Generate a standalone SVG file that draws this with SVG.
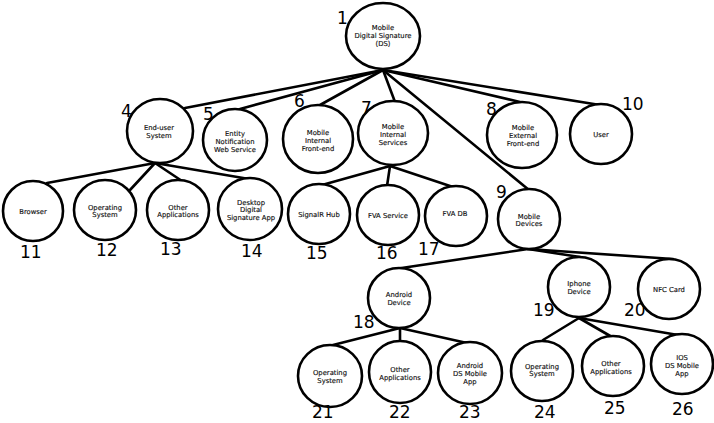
<svg xmlns="http://www.w3.org/2000/svg" width="714" height="423" viewBox="0 0 714 423">
<style>
.n ellipse{fill:#fff;stroke:#000;stroke-width:2.6}
.n text{font-family:"DejaVu Sans",sans-serif;font-size:6.8px;text-anchor:middle;fill:#111;stroke:#111;stroke-width:0.15}
.num{font-family:"DejaVu Sans",sans-serif;font-size:17px;fill:#000}
#connectors line{stroke:#000;stroke-width:2.6;stroke-linecap:round}
</style>
<rect width="714" height="423" fill="#fff"/>
<g id="connectors">
<line x1="383" y1="70" x2="185" y2="108"/>
<line x1="383" y1="70" x2="240" y2="109"/>
<line x1="383" y1="70" x2="320" y2="105"/>
<line x1="383" y1="70" x2="395" y2="102"/>
<line x1="383" y1="70" x2="529" y2="190"/>
<line x1="383" y1="70" x2="520" y2="102"/>
<line x1="383" y1="70" x2="600" y2="105"/>
<line x1="155" y1="163" x2="47" y2="183"/>
<line x1="155" y1="163" x2="130" y2="190"/>
<line x1="155" y1="163" x2="182" y2="181"/>
<line x1="155" y1="163" x2="255" y2="180"/>
<line x1="390" y1="166" x2="322" y2="185"/>
<line x1="390" y1="166" x2="387" y2="186"/>
<line x1="390" y1="166" x2="453" y2="187"/>
<line x1="528" y1="249" x2="395" y2="269"/>
<line x1="528" y1="249" x2="580" y2="257"/>
<line x1="528" y1="249" x2="673" y2="259"/>
<line x1="400" y1="328" x2="333" y2="345"/>
<line x1="400" y1="328" x2="400" y2="342"/>
<line x1="400" y1="328" x2="467" y2="343"/>
<line x1="579" y1="318" x2="543" y2="340"/>
<line x1="579" y1="318" x2="612" y2="337"/>
<line x1="579" y1="318" x2="678" y2="335"/>
</g>
<g id="n1" class="n"><ellipse cx="383" cy="36" rx="37" ry="33"/><text x="383" y="29.5">Mobile</text><text x="383" y="37.5">Digital Signature</text><text x="383" y="45.5">(DS)</text></g>
<g id="n4" class="n"><ellipse cx="160" cy="131" rx="33" ry="32"/><text x="159" y="129.5">End-user</text><text x="159" y="137.5">System</text></g>
<g id="n5" class="n"><ellipse cx="235" cy="140" rx="32" ry="31"/><text x="235" y="135.5">Entity</text><text x="235" y="143.5">Notification</text><text x="235" y="151.5">Web Service</text></g>
<g id="n6" class="n"><ellipse cx="318" cy="139" rx="35" ry="34"/><text x="318" y="134.5">Mobile</text><text x="318" y="142.5">Internal</text><text x="318" y="150.5">Front-end</text></g>
<g id="n7" class="n"><ellipse cx="393" cy="133" rx="35" ry="32"/><text x="393" y="128.5">Mobile</text><text x="393" y="136.5">Internal</text><text x="393" y="144.5">Services</text></g>
<g id="n8" class="n"><ellipse cx="522" cy="135" rx="35" ry="33"/><text x="523" y="129.5">Mobile</text><text x="523" y="137.5">External</text><text x="523" y="145.5">Front-end</text></g>
<g id="n10" class="n"><ellipse cx="601" cy="134" rx="31" ry="30"/><text x="601" y="136.5">User</text></g>
<g id="n11" class="n"><ellipse cx="33" cy="211" rx="30" ry="30"/><text x="33" y="213.5">Browser</text></g>
<g id="n12" class="n"><ellipse cx="105" cy="210" rx="31" ry="30"/><text x="105" y="209.5">Operating</text><text x="105" y="217">System</text></g>
<g id="n13" class="n"><ellipse cx="178" cy="210" rx="31" ry="30"/><text x="178" y="209.5">Other</text><text x="178" y="217">Applications</text></g>
<g id="n14" class="n"><ellipse cx="250" cy="209" rx="32" ry="31"/><text x="251" y="204.5">Desktop</text><text x="251" y="212">Digital</text><text x="251" y="219.5">Signature App</text></g>
<g id="n15" class="n"><ellipse cx="319" cy="214" rx="31" ry="30"/><text x="319" y="216.5">SignalR Hub</text></g>
<g id="n16" class="n"><ellipse cx="388" cy="215" rx="31" ry="30"/><text x="388" y="217.5">FVA Service</text></g>
<g id="n17" class="n"><ellipse cx="456" cy="216" rx="31" ry="30"/><text x="455" y="215.5">FVA DB</text></g>
<g id="n9" class="n"><ellipse cx="529" cy="219" rx="31" ry="30"/><text x="529" y="218.5">Mobile</text><text x="529" y="226">Devices</text></g>
<g id="n18" class="n"><ellipse cx="399" cy="298" rx="31" ry="30"/><text x="399" y="296.5">Android</text><text x="399" y="304.5">Device</text></g>
<g id="n19" class="n"><ellipse cx="579" cy="287" rx="31" ry="30"/><text x="579" y="285.5">Iphone</text><text x="579" y="294">Device</text></g>
<g id="n20" class="n"><ellipse cx="669" cy="289" rx="31" ry="30"/><text x="669" y="291.5">NFC Card</text></g>
<g id="n21" class="n"><ellipse cx="330" cy="376" rx="32" ry="31"/><text x="330" y="374.5">Operating</text><text x="330" y="382.5">System</text></g>
<g id="n22" class="n"><ellipse cx="400" cy="372" rx="31" ry="31"/><text x="400" y="371.5">Other</text><text x="400" y="379.5">Applications</text></g>
<g id="n23" class="n"><ellipse cx="470" cy="373" rx="32" ry="31"/><text x="470" y="367.5">Android</text><text x="470" y="375.5">DS Mobile</text><text x="470" y="383.5">App</text></g>
<g id="n24" class="n"><ellipse cx="542" cy="371" rx="31" ry="30"/><text x="542" y="368.5">Operating</text><text x="542" y="375.5">System</text></g>
<g id="n25" class="n"><ellipse cx="613" cy="366" rx="31" ry="30"/><text x="611" y="365.5">Other</text><text x="611" y="373.5">Applications</text></g>
<g id="n26" class="n"><ellipse cx="682" cy="364" rx="31" ry="30"/><text x="682" y="359.5">IOS</text><text x="682" y="367.5">DS Mobile</text><text x="682" y="375.5">App</text></g>
<g id="labels">
<text class="num" x="337" y="24">1</text>
<text class="num" x="121" y="117">4</text>
<text class="num" x="203" y="120">5</text>
<text class="num" x="294" y="107">6</text>
<text class="num" x="361" y="114">7</text>
<text class="num" x="486" y="115">8</text>
<text class="num" x="622" y="110">10</text>
<text class="num" x="20" y="258">11</text>
<text class="num" x="96" y="256">12</text>
<text class="num" x="160" y="255">13</text>
<text class="num" x="241" y="257">14</text>
<text class="num" x="306" y="259">15</text>
<text class="num" x="376" y="259">16</text>
<text class="num" x="418" y="255">17</text>
<text class="num" x="496" y="198">9</text>
<text class="num" x="353" y="328">18</text>
<text class="num" x="533" y="316">19</text>
<text class="num" x="624" y="316">20</text>
<text class="num" x="312" y="418">21</text>
<text class="num" x="389" y="418">22</text>
<text class="num" x="459" y="418">23</text>
<text class="num" x="534" y="418">24</text>
<text class="num" x="604" y="414">25</text>
<text class="num" x="672" y="415">26</text>
</g>
</svg>
